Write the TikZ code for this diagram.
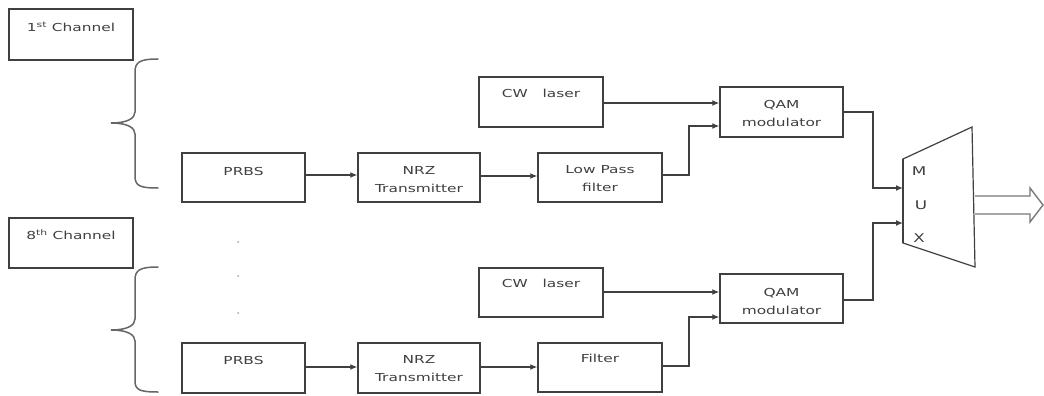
\documentclass[tikz,border=0pt]{standalone}
\usepackage{fontspec}
\setmainfont[FakeStretch=1.4]{DejaVu Sans}
\usetikzlibrary{arrows.meta}
\definecolor{ln}{gray}{0.25}
\definecolor{tx}{gray}{0.25}
\tikzset{
  box/.style={draw=ln, line width=1.4pt, minimum width=123pt, minimum height=49pt, inner sep=0pt},
  lbl/.style={text=tx, font=\fontsize{11}{18}\selectfont, align=center, inner sep=0pt},
  arr/.style={draw=ln, line width=1.3pt, -{Latex[length=7pt,width=6pt]}},
  wire/.style={draw=ln, line width=1.3pt},
  brace/.style={draw=ln!80, line width=1.5pt, line cap=round}
}
\begin{document}
\begin{tikzpicture}[x=1pt,y=-1pt]
\useasboundingbox[fill=white] (0,0) rectangle (1044,396);

% channel labels
\node[box, minimum width=124pt, minimum height=51pt] (ch1) at (71,34.5) {};
\node[lbl] (ch1t) at (71,27) {1\textsuperscript{st} Channel};
\node[box, minimum width=124pt, minimum height=50pt] (ch8) at (71,243) {};
\node[lbl] (ch8t) at (71,235) {8\textsuperscript{th} Channel};

% braces
\draw[brace] (158,59) .. controls (140,59) and (135,62) .. (135,72) -- (135,112)
  .. controls (135,118) and (128,123) .. (111,123)
  .. controls (128,123) and (135,128) .. (135,134) -- (135,176)
  .. controls (135,186) and (140,188) .. (158,188);
\draw[brace] (158,267) .. controls (140,267) and (135,270) .. (135,280) -- (135,319)
  .. controls (135,325) and (128,330) .. (111,330)
  .. controls (128,330) and (135,335) .. (135,341) -- (135,381)
  .. controls (135,390) and (140,392) .. (158,392);

% dots
\foreach \yy in {242,276,313} \fill[gray!70] (238,\yy) circle (1pt);

% top chain
\node[box] (prbs1) at (243.5,177.5) {};
\node[lbl] (prbs1t) at (243.5,171) {PRBS};
\node[box, minimum width=122pt] (nrz1) at (419,177.5) {};
\node[lbl] (nrz1t) at (419,180) {NRZ\\Transmitter};
\node[box, minimum width=124pt] (lpf1) at (600,177.5) {};
\node[lbl] (lpf1t) at (600,179) {Low Pass\\filter};
\node[box, minimum width=124pt, minimum height=50pt] (cw1) at (541,102) {};
\node[lbl] (cw1t) at (541,93) {CW\ \ \ laser};
\node[box, minimum height=50pt] (qam1) at (781.5,112) {};
\node[lbl] (qam1t) at (781.5,113) {QAM\\modulator};

% bottom chain
\node[box, minimum height=50pt] (prbs2) at (243.5,368) {};
\node[lbl] (prbs2t) at (243.5,360) {PRBS};
\node[box, minimum width=122pt, minimum height=50pt] (nrz2) at (419,368) {};
\node[lbl] (nrz2t) at (419,369) {NRZ\\Transmitter};
\node[box, minimum width=124pt] (flt2) at (600,367.5) {};
\node[lbl] (flt2t) at (600,358) {Filter};
\node[box, minimum width=124pt] (cw2) at (541,292.5) {};
\node[lbl] (cw2t) at (541,283) {CW\ \ \ laser};
\node[box] (qam2) at (781.5,298.5) {};
\node[lbl] (qam2t) at (781.5,301) {QAM\\modulator};

% mux
\draw[wire, line width=1.2pt] (903,159) -- (972,127) -- (975,267) -- (903,243) -- cycle;
\draw[draw=ln, line width=1.7pt] (903,159) -- (903,243);
\coordinate (muxin1) at (903,188);
\coordinate (muxin2) at (903,223);
\coordinate (muxtop) at (975,196);
\coordinate (muxbot) at (975,214);
\node[lbl, font=\fontsize{12}{14}\selectfont] (mM) at (919,171) {M};
\node[lbl, font=\fontsize{12}{14}\selectfont] (mU) at (921,205) {U};
\node[lbl, font=\fontsize{12}{14}\selectfont] (mX) at (919,238) {X};

% output arrow
\draw[draw=ln!70, line width=1.4pt, line join=miter]
  (muxtop) -- (1030,196) -- (1030,188) -- (1043,205) -- (1030,222) -- (1030,214) -- (muxbot);

% top connectors
\draw[arr] (prbs1.east |- 0,175) -- (nrz1.west |- 0,175);
\draw[arr] (nrz1.east |- 0,176) -- (lpf1.west |- 0,176);
\draw[arr] (cw1.east |- 0,103) -- (qam1.west |- 0,103);
\draw[arr] (lpf1.east |- 0,175) -- (689,175) -- (689,126) -- (qam1.west |- 0,126);
\draw[arr] (qam1.east |- 0,112) -- (873,112) -- (873,188) -- (muxin1);

% bottom connectors
\draw[arr] (prbs2.east |- 0,367) -- (nrz2.west |- 0,367);
\draw[arr] (nrz2.east |- 0,367) -- (flt2.west |- 0,367);
\draw[arr] (cw2.east |- 0,292) -- (qam2.west |- 0,292);
\draw[arr] (flt2.east |- 0,366) -- (689,366) -- (689,317) -- (qam2.west |- 0,317);
\draw[arr] (qam2.east |- 0,300) -- (873,300) -- (873,223) -- (muxin2);
\end{tikzpicture}
\end{document}
